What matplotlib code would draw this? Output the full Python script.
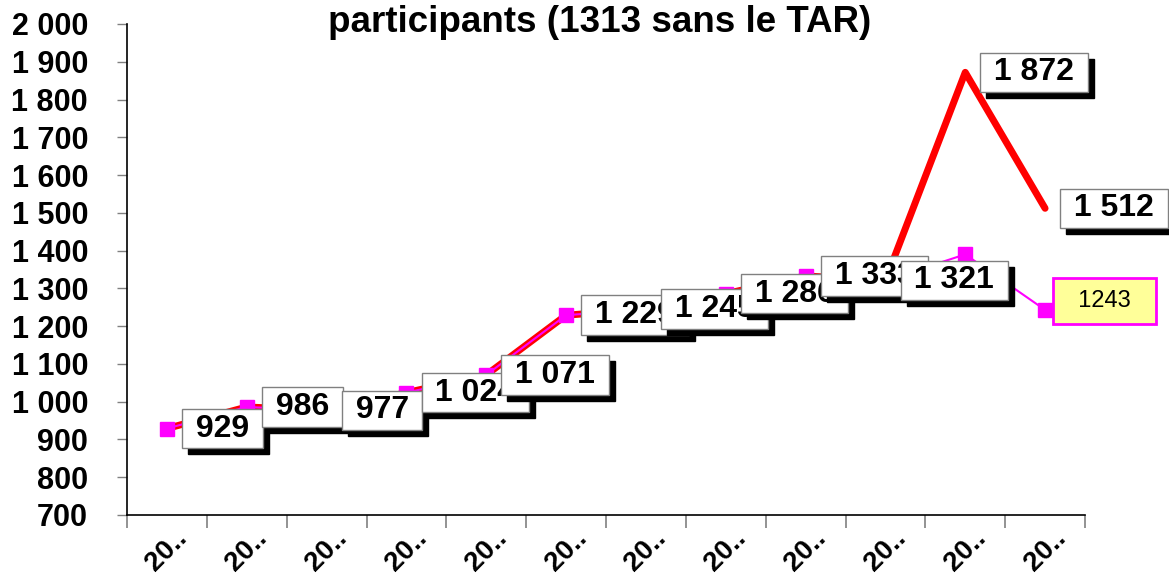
import matplotlib
matplotlib.use('Agg')
import matplotlib.pyplot as plt
import numpy as np

# ---- data ----
categories = ['20..'] * 12
total = [929, 986, 977, 1024, 1071, 1229, 1245, 1286, 1333, 1321, 1872, 1512]
sans_tar = [929, 986, 977, 1024, 1071, 1229, 1245, 1286, 1333, 1321, 1390, 1243]
label_text = ['929', '986', '977', '1 024', '1 071', '1 229', '1 245', '1 286',
              '1 333', '1 321', '1 872', '1 512']
last_label = '1243'
yticks = list(range(700, 2001, 100))
ytick_labels = [f'{v:,}'.replace(',', ' ') for v in yticks]
title = 'participants (1313 sans le TAR)'

plt.rcParams['font.family'] = ['Liberation Sans', 'DejaVu Sans']

fig = plt.figure(figsize=(11.69, 5.74), dpi=100)
ax = fig.add_axes([127/1169, 1-515/574, (1085-127)/1169, (515-24)/574])

x = np.arange(len(categories))
ax.plot(x, total, color='#FF0000', lw=5, solid_capstyle='round', solid_joinstyle='round', zorder=2)
ax.plot(x, sans_tar, color='#FF00FF', lw=1.5, marker='s', ms=10.5, mec='#FF00FF', mfc='#FF00FF', zorder=3)

ax.set_xlim(-0.5, len(categories) - 0.5)
ax.set_ylim(700, 2000)
ax.set_yticks(yticks)
ax.set_yticklabels(ytick_labels, fontsize=22, fontweight='bold')
ax.set_xticks(x)
ax.set_xticklabels(categories, rotation=45, ha='center', va='top', fontsize=20, fontweight='bold')
ax.tick_params(axis='x', which='major', length=0, pad=7)
ax.set_xticks(np.arange(-0.5, len(categories), 1), minor=True)
ax.tick_params(axis='x', which='minor', length=9, color='#808080', width=1.2)
ax.tick_params(axis='y', length=7, width=1, color='#808080', pad=21)
for s in ['top', 'right']:
    ax.spines[s].set_visible(False)
for s in ['left', 'bottom']:
    ax.spines[s].set_linewidth(1.2)

fs = 23
for i, (v, t) in enumerate(zip(total, label_text)):
    z = 10 + 2 * i
    ax.annotate(' ' + t + ' ', xy=(i, v), xytext=(20 + 6, -6), textcoords='offset pixels',
                ha='left', va='center', fontsize=fs, fontweight='bold', color='black',
                bbox=dict(boxstyle='square,pad=0.15', fc='black', ec='black', lw=1),
                zorder=z, annotation_clip=False)
    ax.annotate(' ' + t + ' ', xy=(i, v), xytext=(20, 0), textcoords='offset pixels',
                ha='left', va='center', fontsize=fs, fontweight='bold', color='black',
                bbox=dict(boxstyle='square,pad=0.15', fc='white', ec='#808080', lw=1),
                zorder=z + 1, annotation_clip=False)

ax.annotate('  ' + last_label + '  ', xy=(x[-1], sans_tar[-1]), xytext=(20, 9), textcoords='offset pixels',
            ha='left', va='center', fontsize=17, color='black',
            bbox=dict(boxstyle='square,pad=0.5', fc='#FFFF99', ec='#FF00FF', lw=2),
            zorder=40, annotation_clip=False)

fig.text(600/1169, 1-22/574, title, ha='center', va='center', fontsize=26.5, fontweight='bold')

fig.savefig('out.png', dpi=100)
